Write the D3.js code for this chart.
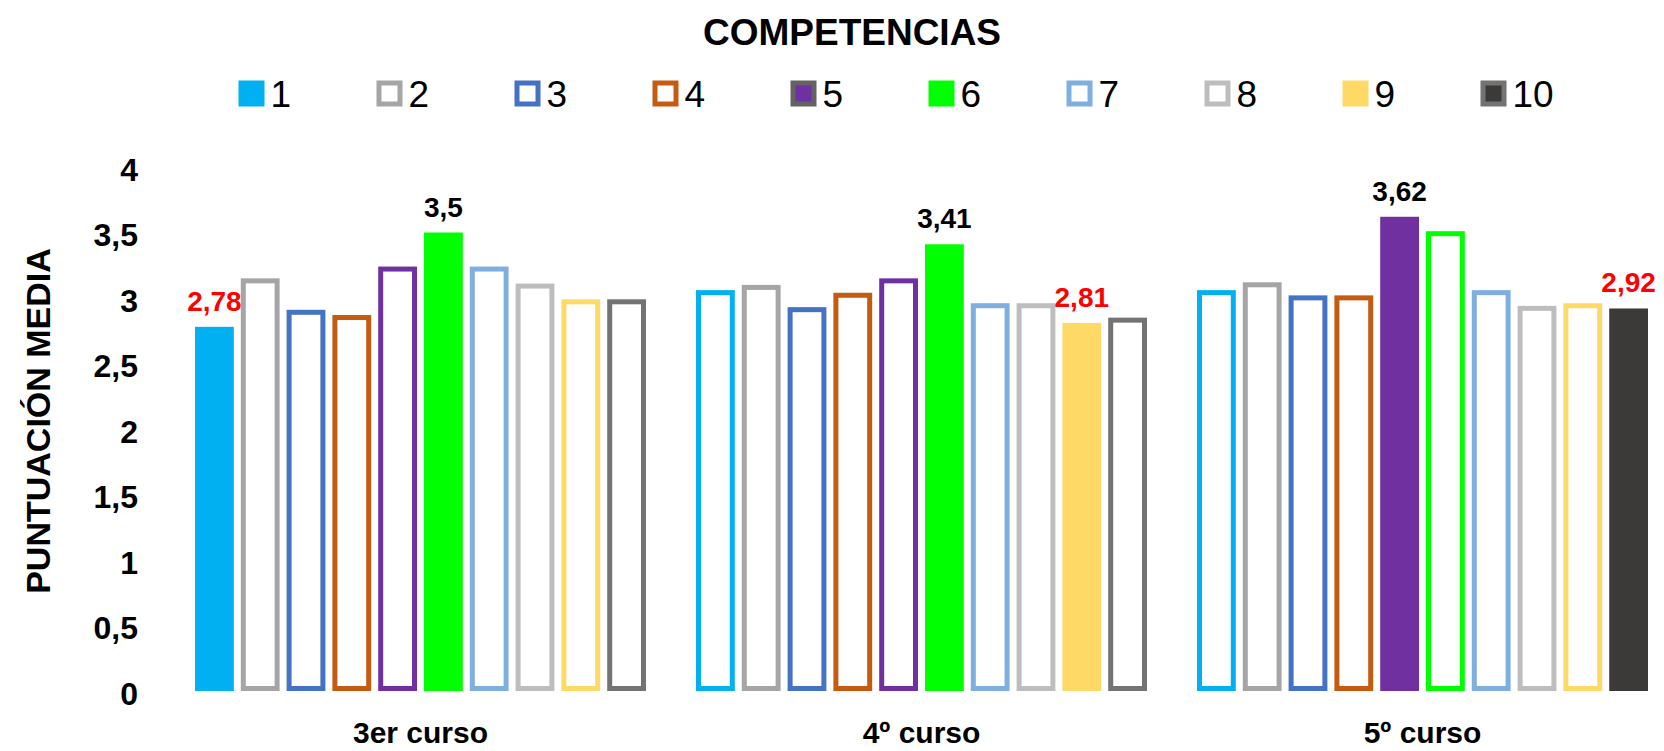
<!DOCTYPE html>
<html lang="es">
<head>
<meta charset="utf-8">
<script src="https://cdn.jsdelivr.net/npm/d3@7"></script>
<style>
  html, body { margin: 0; padding: 0; background: #ffffff; }
  svg { display: block; font-family: "Liberation Sans", Arial, Helvetica, sans-serif; }
</style>
</head>
<body>
<svg id="chart" width="1664" height="751"></svg>
<script>
// Cursos (grupos del eje X)
const cursos = ["3er curso", "4º curso", "5º curso"];
// Competencias (series)
const competencias = ["1", "2", "3", "4", "5", "6", "7", "8", "9", "10"];
// Puntuación media por competencia en cada curso
const valores3 = [2.78, 3.15, 2.91, 2.87, 3.24, 3.5, 3.24, 3.11, 2.99, 2.99];
const valores4 = [3.06, 3.10, 2.93, 3.04, 3.15, 3.41, 2.96, 2.96, 2.81, 2.85];
const valores5 = [3.06, 3.12, 3.02, 3.02, 3.62, 3.51, 3.06, 2.94, 2.96, 2.92];
// Marcas del eje Y
const ticksY = [0, 0.5, 1, 1.5, 2, 2.5, 3, 3.5, 4];

// Colores de cada competencia
const colorBorde = ["#00B0F0", "#A5A5A5", "#4472C4", "#C55A11", "#7030A0",
                    "#00FF00", "#7FAFDF", "#BDBDBD", "#FFD966", "#737373"];
const colorRelleno = ["#00B0F0", "#A5A5A5", "#4472C4", "#C55A11", "#7030A0",
                      "#00FF00", "#7FAFDF", "#BDBDBD", "#FFD966", "#3B3A39"];
const leyendaBorde = ["#00B0F0", "#A5A5A5", "#4472C4", "#C55A11", "#636363",
                      "#00FF00", "#7FAFDF", "#BDBDBD", "#FFD966", "#737373"];
const leyendaRelleno = ["#00B0F0", "#ffffff", "#ffffff", "#ffffff", "#7030A0",
                        "#00FF00", "#ffffff", "#ffffff", "#FFD966", "#3B3A39"];

const valoresPorCurso = [valores3, valores4, valores5];
const datos = cursos.map((c, i) => ({ curso: c, valores: valoresPorCurso[i] }));

const svg = d3.select("#chart");

// Escalas
const x0 = d3.scaleBand().domain(cursos).range([170, 1673]).padding(0);
const x1 = d3.scaleBand().domain(competencias)
  .range([25, x0.bandwidth() - 25]).paddingInner(0.153).paddingOuter(0);
const y = d3.scaleLinear().domain([0, 4]).range([691, 167]);

const fmt = v => String(v).replace(".", ",");
const stroke = 5;

// Título y leyenda
svg.append("text")
  .attr("x", 852).attr("y", 44.5)
  .attr("text-anchor", "middle")
  .attr("font-size", 37).attr("font-weight", "bold")
  .attr("fill", "#000")
  .text("COMPETENCIAS");

const leyenda = svg.append("g");
const paso = 138, tam = 26;
competencias.forEach((c, i) => {
  const cx = 251.5 + i * paso;
  const g = leyenda.append("g");
  g.append("rect")
    .attr("x", cx - tam / 2 + stroke / 2).attr("y", 80.5 + stroke / 2)
    .attr("width", tam - stroke).attr("height", tam - stroke)
    .attr("fill", leyendaRelleno[i])
    .attr("stroke", leyendaBorde[i]).attr("stroke-width", stroke);
  g.append("text")
    .attr("x", cx + tam / 2 + 6).attr("y", 107)
    .attr("font-size", 37).attr("fill", "#000")
    .text(c);
});

// Eje Y
const ejeY = svg.append("g")
  .attr("transform", "translate(138,0)")
  .call(d3.axisLeft(y).tickValues(ticksY).tickSize(0).tickPadding(0).tickFormat(fmt));
ejeY.select(".domain").remove();
ejeY.selectAll("text")
  .attr("font-size", 32).attr("font-weight", "bold")
  .attr("fill", "#000").attr("font-family", "'Liberation Sans', Arial, sans-serif")
  .attr("dy", "0.42em");

svg.append("text")
  .attr("transform", "translate(50,421) rotate(-90)")
  .attr("text-anchor", "middle")
  .attr("font-size", 34).attr("font-weight", "bold")
  .attr("fill", "#000")
  .text("PUNTUACIÓN MEDIA");

// Eje X (etiquetas de curso)
const ejeX = svg.append("g")
  .attr("transform", "translate(0,743)")
  .call(d3.axisBottom(x0).tickSize(0).tickPadding(0));
ejeX.select(".domain").remove();
ejeX.selectAll("text")
  .attr("font-size", 30).attr("font-weight", "bold")
  .attr("fill", "#000").attr("font-family", "'Liberation Sans', Arial, sans-serif")
  .attr("dy", 0);

// Barras: la mínima y la máxima de cada curso van rellenas y con su valor
const grupos = svg.append("g").selectAll("g")
  .data(datos).join("g")
  .attr("transform", d => `translate(${x0(d.curso)},0)`);

grupos.each(function (d) {
  const g = d3.select(this);
  const min = d3.min(d.valores), max = d3.max(d.valores);
  d.valores.forEach((v, i) => {
    const destacada = (v === min || v === max);
    const bx = x1(competencias[i]), bw = x1.bandwidth();
    if (destacada) {
      g.append("rect")
        .attr("x", bx).attr("y", y(v))
        .attr("width", bw).attr("height", y(0) - y(v))
        .attr("fill", colorRelleno[i]);
      g.append("text")
        .attr("x", bx + bw / 2).attr("y", y(v) - 16)
        .attr("text-anchor", "middle")
        .attr("font-size", 28).attr("font-weight", "bold")
        .attr("fill", v === min ? "#FF0000" : "#000000")
        .text(fmt(v));
    } else {
      g.append("rect")
        .attr("x", bx + stroke / 2).attr("y", y(v) + stroke / 2)
        .attr("width", bw - stroke).attr("height", y(0) - y(v) - stroke)
        .attr("fill", "#ffffff")
        .attr("stroke", colorBorde[i]).attr("stroke-width", stroke);
    }
  });
});
</script>
</body>
</html>
